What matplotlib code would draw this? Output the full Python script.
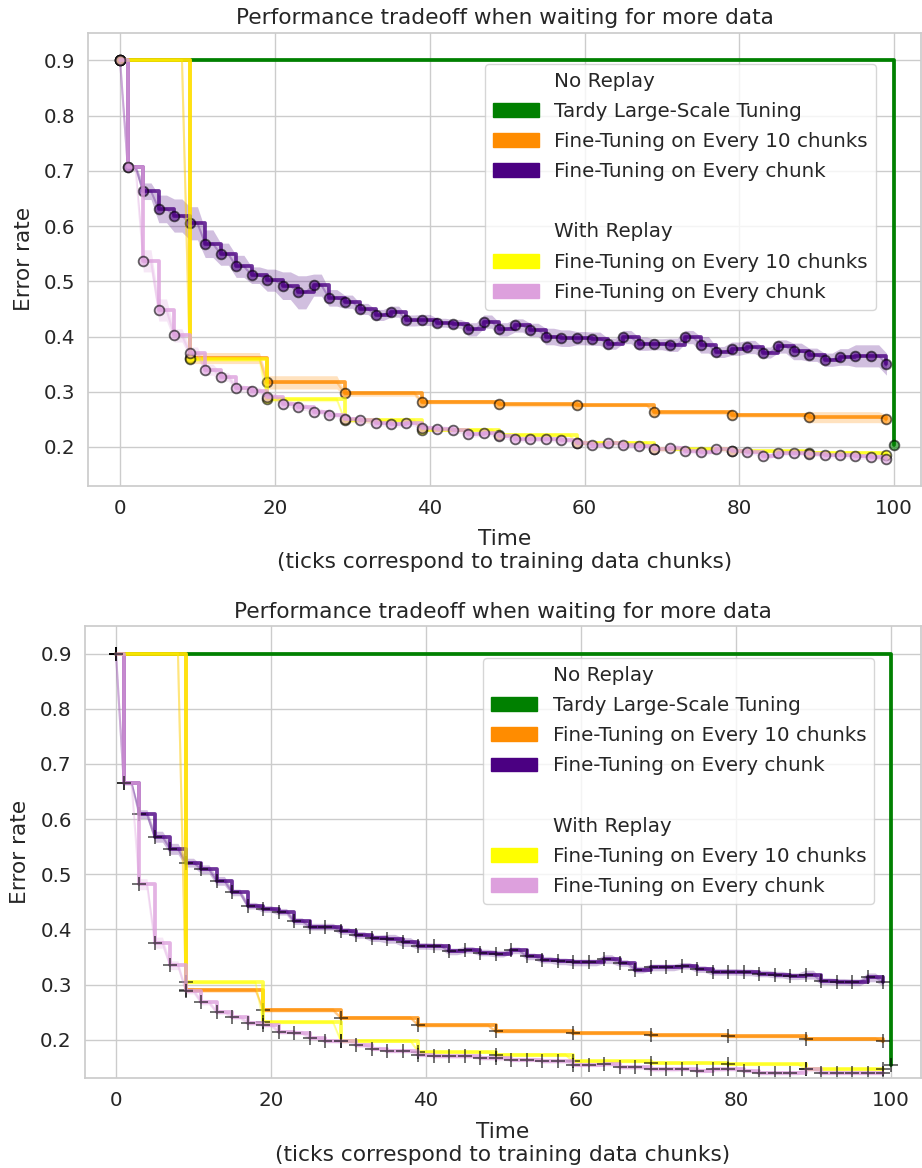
import numpy as np
import matplotlib
matplotlib.use("Agg")
from matplotlib import pyplot as plt
from matplotlib.patches import Patch
import seaborn as sns

sns.set_theme(style="whitegrid", font_scale=1.3)
plt.rcParams['font.family'] = ['DejaVu Sans']

# checkpoint times (chunk index where a model is evaluated)
every_times = [0] + list(range(1, 100, 2))
ten_times = [0] + list(range(9, 100, 10))
tardy_times = [0, 100]

# ---- top panel ----
top_tardy = [0.9, 0.204]
top_ten = [0.9, 0.361, 0.317, 0.297, 0.282, 0.277, 0.276, 0.263, 0.258, 0.254, 0.250]
top_every = [0.9, 0.706, 0.663, 0.631, 0.619, 0.605, 0.568, 0.549, 0.527, 0.511, 0.502,
             0.492, 0.480, 0.493, 0.470, 0.463, 0.450, 0.439, 0.445, 0.429, 0.430,
             0.425, 0.423, 0.413, 0.427, 0.413, 0.420, 0.412, 0.400, 0.397, 0.397,
             0.396, 0.387, 0.399, 0.387, 0.386, 0.385, 0.399, 0.385, 0.372, 0.378,
             0.381, 0.371, 0.382, 0.373, 0.367, 0.358, 0.363, 0.365, 0.365, 0.350]
top_ten_replay = [0.9, 0.359, 0.286, 0.248, 0.231, 0.222, 0.208, 0.196, 0.193, 0.190, 0.185]
top_every_replay = [0.9, 0.706, 0.537, 0.448, 0.402, 0.371, 0.340, 0.327, 0.306, 0.302, 0.291,
                    0.278, 0.272, 0.264, 0.258, 0.250, 0.248, 0.243, 0.241, 0.243, 0.234,
                    0.233, 0.230, 0.223, 0.225, 0.219, 0.214, 0.215, 0.214, 0.213, 0.208,
                    0.204, 0.207, 0.203, 0.202, 0.196, 0.199, 0.193, 0.191, 0.196, 0.193,
                    0.191, 0.184, 0.190, 0.190, 0.188, 0.185, 0.185, 0.183, 0.182, 0.179]

top_ten_ci = [0, 0.01, 0.012, 0.005, 0.004, 0.004, 0.003, 0.004, 0.004, 0.01, 0.008]
top_every_ci = [0, 0.005, 0.015, 0.025, 0.03, 0.03, 0.025, 0.02, 0.02, 0.015, 0.02,
                0.025, 0.03, 0.02, 0.015, 0.012, 0.01, 0.01, 0.01, 0.01, 0.01,
                0.008, 0.008, 0.012, 0.012, 0.012, 0.012, 0.012, 0.015, 0.015, 0.012,
                0.012, 0.01, 0.012, 0.012, 0.01, 0.012, 0.012, 0.015, 0.01, 0.012,
                0.012, 0.01, 0.012, 0.015, 0.012, 0.012, 0.015, 0.02, 0.02, 0.02]
top_ten_replay_ci = [0, 0.004, 0.004, 0.004, 0.003, 0.003, 0.003, 0.003, 0.003, 0.003, 0.003]
top_every_replay_ci = [0, 0.005, 0.02, 0.02, 0.012, 0.01, 0.01, 0.008, 0.006, 0.006, 0.006,
                       0.006, 0.006, 0.005, 0.005, 0.005, 0.005, 0.005, 0.005, 0.005, 0.005,
                       0.005, 0.005, 0.005, 0.005, 0.005, 0.005, 0.005, 0.005, 0.005, 0.005,
                       0.005, 0.005, 0.005, 0.005, 0.005, 0.005, 0.005, 0.005, 0.005, 0.005,
                       0.005, 0.005, 0.005, 0.005, 0.005, 0.005, 0.005, 0.005, 0.005, 0.005]

# ---- bottom panel ----
bot_tardy = [0.9, 0.155]
bot_ten = [0.9, 0.290, 0.254, 0.240, 0.226, 0.215, 0.212, 0.208, 0.206, 0.202, 0.197]
bot_every = [0.9, 0.666, 0.609, 0.568, 0.546, 0.521, 0.509, 0.488, 0.467, 0.443, 0.437,
             0.432, 0.415, 0.405, 0.405, 0.397, 0.390, 0.384, 0.383, 0.377, 0.370,
             0.369, 0.360, 0.363, 0.358, 0.356, 0.362, 0.351, 0.345, 0.342, 0.340,
             0.340, 0.346, 0.339, 0.327, 0.331, 0.331, 0.334, 0.328, 0.323, 0.323,
             0.322, 0.320, 0.318, 0.315, 0.318, 0.306, 0.305, 0.304, 0.313, 0.304]
bot_ten_replay = [0.9, 0.304, 0.232, 0.198, 0.178, 0.173, 0.161, 0.158, 0.156, 0.147, 0.146]
bot_every_replay = [0.9, 0.666, 0.482, 0.376, 0.335, 0.289, 0.268, 0.250, 0.241, 0.230, 0.227,
                    0.214, 0.213, 0.203, 0.198, 0.197, 0.190, 0.184, 0.180, 0.180, 0.173,
                    0.170, 0.170, 0.170, 0.167, 0.166, 0.164, 0.164, 0.161, 0.161, 0.155,
                    0.155, 0.156, 0.150, 0.150, 0.146, 0.146, 0.147, 0.144, 0.146, 0.147,
                    0.144, 0.140, 0.140, 0.140, 0.146, 0.140, 0.140, 0.140, 0.140, 0.140]

bot_ten_ci = [0, 0.004, 0.004, 0.003, 0.003, 0.003, 0.003, 0.003, 0.003, 0.003, 0.003]
bot_every_ci = [0, 0.004, 0.008, 0.01, 0.01, 0.008, 0.008, 0.008, 0.006, 0.006, 0.006,
                0.006, 0.006, 0.006, 0.006, 0.006, 0.006, 0.006, 0.008, 0.008, 0.006,
                0.006, 0.006, 0.006, 0.006, 0.006, 0.006, 0.006, 0.006, 0.006, 0.006,
                0.006, 0.008, 0.006, 0.006, 0.006, 0.006, 0.006, 0.006, 0.006, 0.006,
                0.006, 0.006, 0.006, 0.006, 0.008, 0.006, 0.006, 0.006, 0.008, 0.006]
bot_ten_replay_ci = [0, 0.003, 0.003, 0.003, 0.003, 0.003, 0.003, 0.003, 0.003, 0.003, 0.003]
bot_every_replay_ci = [0, 0.004, 0.01, 0.01, 0.008, 0.006, 0.005, 0.004, 0.004, 0.004, 0.004,
                       0.004, 0.004, 0.004, 0.004, 0.004, 0.004, 0.004, 0.004, 0.004, 0.004,
                       0.004, 0.004, 0.004, 0.004, 0.004, 0.004, 0.004, 0.004, 0.004, 0.004,
                       0.004, 0.004, 0.004, 0.004, 0.004, 0.004, 0.004, 0.004, 0.004, 0.004,
                       0.004, 0.004, 0.004, 0.004, 0.004, 0.004, 0.004, 0.004, 0.004, 0.004]

colors = ["green", "darkorange", "indigo", "yellow", "plum"]
legend_labels = ["No Replay", "Tardy Large-Scale Tuning", "Fine-Tuning on Every 10 chunks",
                 "Fine-Tuning on Every chunk", "", "With Replay",
                 "Fine-Tuning on Every 10 chunks", "Fine-Tuning on Every chunk"]


def hold(times, vals):
    # value of the latest checkpoint for every chunk
    t = np.arange(0, times[-1] + 1)
    idx = np.searchsorted(times, t, side="right") - 1
    return t, np.asarray(vals)[idx]


def draw(ax, times, vals, ci, color, marker, line_alpha=0.8):
    if ci is not None:
        t, v = hold(times, vals)
        _, c = hold(times, ci)
        ax.plot(t, v, color=color, alpha=0.3, lw=1.5)
        ax.fill_between(t, v - c, v + c, color=color, alpha=0.25, lw=0)
    ax.plot(times, vals, drawstyle="steps-post", color=color, lw=2.7, alpha=line_alpha)
    if marker == "o":
        ax.plot(times, vals, ls="none", marker="o", ms=7, mfc=color, mec="black",
                mew=1.3, alpha=0.6)
    else:
        ax.plot(times, vals, ls="none", marker="+", ms=10, color="black",
                mew=1.3, alpha=0.6)


def panel(ax, data, marker, xlim, anchor):
    draw(ax, tardy_times, data[0][0], None, colors[0], marker, line_alpha=1.0)
    draw(ax, ten_times, data[1][0], data[1][1], colors[1], marker)
    draw(ax, every_times, data[2][0], data[2][1], colors[2], marker)
    draw(ax, ten_times, data[3][0], data[3][1], colors[3], marker, line_alpha=0.7)
    draw(ax, every_times, data[4][0], data[4][1], colors[4], marker)
    ax.set_xlim(*xlim)
    ax.set_ylim(0.13, 0.95)
    ax.set_xticks([0, 20, 40, 60, 80, 100])
    ax.set_yticks([0.2, 0.3, 0.4, 0.5, 0.6, 0.7, 0.8, 0.9])
    ax.set_title("Performance tradeoff when waiting for more data")
    ax.set_xlabel("Time\n(ticks correspond to training data chunks)", labelpad=8)
    ax.set_ylabel("Error rate", labelpad=7)
    blank = Patch(facecolor="none", edgecolor="none")
    handles = [blank, Patch(color=colors[0]), Patch(color=colors[1]), Patch(color=colors[2]),
               blank, blank, Patch(color=colors[3]), Patch(color=colors[4])]
    ax.legend(handles, legend_labels, loc="upper right", bbox_to_anchor=anchor,
              handlelength=2.3, fontsize=14.3, labelspacing=0.56)


fig = plt.figure(figsize=(9.22, 11.68), dpi=100)
ax1 = fig.add_axes([0.0958, 0.5842, 0.903, 0.3878])
ax2 = fig.add_axes([0.0922, 0.0768, 0.9067, 0.3872])

panel(ax1, [(top_tardy, None), (top_ten, top_ten_ci), (top_every, top_every_ci),
            (top_ten_replay, top_ten_replay_ci), (top_every_replay, top_every_replay_ci)],
      "o", (-4.1, 103.45), (0.958, 0.953))
panel(ax2, [(bot_tardy, None), (bot_ten, bot_ten_ci), (bot_every, bot_every_ci),
            (bot_ten_replay, bot_ten_replay_ci), (bot_every_replay, bot_every_replay_ci)],
      "+", (-4.0, 103.9), (0.956, 0.951))

fig.savefig("out.png", dpi=100)
